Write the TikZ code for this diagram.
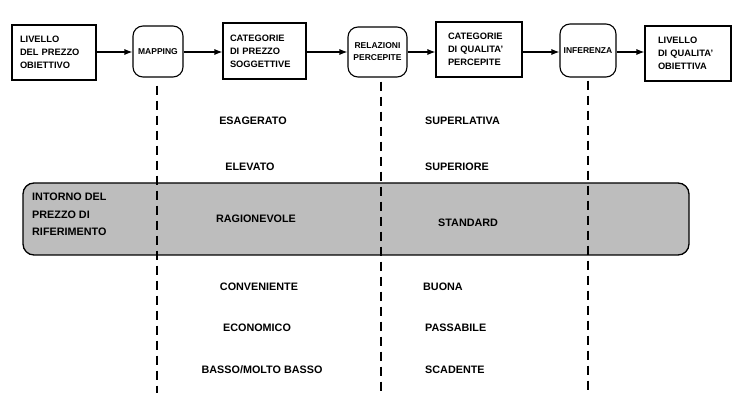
\documentclass[tikz,border=0pt]{standalone}
\usepackage{fontspec}
\setmainfont{Liberation Sans}
\usetikzlibrary{arrows.meta}
\begin{document}
\begin{tikzpicture}[x=1pt,y=-1pt,
  boxtxt/.style={font=\bfseries\fontsize{9.3}{13}\selectfont},
  sqbox/.style={draw, line width=1.1pt, rectangle, boxtxt, align=left, inner ysep=0pt, anchor=center},
  rndbox/.style={draw, line width=1.1pt, rectangle, rounded corners=10pt, align=center, inner sep=0pt,
    font=\bfseries\fontsize{8.5}{12}\selectfont},
  arr/.style={line width=1.1pt, -{Latex[length=8pt,width=6pt]}},
  dline/.style={line width=1.1pt, dash pattern=on 9pt off 6pt},
  lbl/.style={font=\bfseries\fontsize{10.8}{13}\selectfont, inner sep=0pt},
  band/.style={draw, line width=1.3pt, fill=black!26, rounded corners=11pt}
]
\useasboundingbox (0,0) rectangle (732,393);

% band
\draw[band] (23,183) rectangle (689,255);

% top boxes
\node[sqbox, text width=68pt, inner xsep=8pt, minimum height=55pt] (b1) at (54,52.5) {LIVELLO\\DEL PREZZO\\OBIETTIVO};
\node[rndbox, minimum width=50pt, minimum height=51pt] (m) at (158,51.5) {MAPPING};
\node[sqbox, text width=69pt, inner xsep=7pt, minimum height=56pt] (b3) at (264.5,51) {CATEGORIE\\DI PREZZO\\SOGGETTIVE};
\node[rndbox, minimum width=59pt, minimum height=50pt] (r) at (377.5,52) {RELAZIONI\\PERCEPITE};
\node[sqbox, text width=62pt, inner xsep=12pt, minimum height=55pt] (b5) at (479,49.5) {CATEGORIE\\DI QUALITA'\\PERCEPITE};
\node[rndbox, minimum width=56pt, minimum height=53pt] (inf) at (588,50.5) {INFERENZA};
\node[sqbox, text width=60pt, inner xsep=13pt, minimum height=55pt] (b7) at (688,53.5) {LIVELLO\\DI QUALITA'\\OBIETTIVA};

% arrows
\draw[arr] (b1.east |- 0,52) -- (m.west |- 0,52);
\draw[arr] (m.east |- 0,52) -- (b3.west |- 0,52);
\draw[arr] (b3.east |- 0,52) -- (r.west |- 0,52);
\draw[arr] (r.east |- 0,52) -- (b5.west |- 0,52);
\draw[arr] (b5.east |- 0,52) -- (inf.west |- 0,52);
\draw[arr] (inf.east |- 0,52) -- (b7.west |- 0,52);

% dashed lines
\coordinate (mb) at (157,393);
\coordinate (rb) at (381,393);
\coordinate (ib) at (588,393);
\draw[dline] (m.south -| mb) ++(0,8) -- (mb);
\draw[dline] (r.south -| rb) ++(0,4) -- (rb);
\draw[dline] (inf.south) ++(0,3) -- (ib);

% band label
\node[lbl, align=left, anchor=north west, font=\bfseries\fontsize{10.8}{17.5}\selectfont] (intorno) at (32,193) {INTORNO DEL\\PREZZO DI\\RIFERIMENTO};

% left column
\node[lbl] (p1) at (253,121) {ESAGERATO};
\node[lbl] (p2) at (250,167) {ELEVATO};
\node[lbl] (p3) at (256,219) {RAGIONEVOLE};
\node[lbl] (p4) at (259,287) {CONVENIENTE};
\node[lbl] (p5) at (257,328) {ECONOMICO};
\node[lbl] (p6) at (262,370) {BASSO/MOLTO BASSO};

% right column
\node[lbl, anchor=west] (q1) at (425,121) {SUPERLATIVA};
\node[lbl, anchor=west] (q2) at (425,167) {SUPERIORE};
\node[lbl, anchor=west] (q3) at (438,223) {STANDARD};
\node[lbl, anchor=west] (q4) at (423,287) {BUONA};
\node[lbl, anchor=west] (q5) at (425,328) {PASSABILE};
\node[lbl, anchor=west] (q6) at (425,370) {SCADENTE};
\end{tikzpicture}
\end{document}
